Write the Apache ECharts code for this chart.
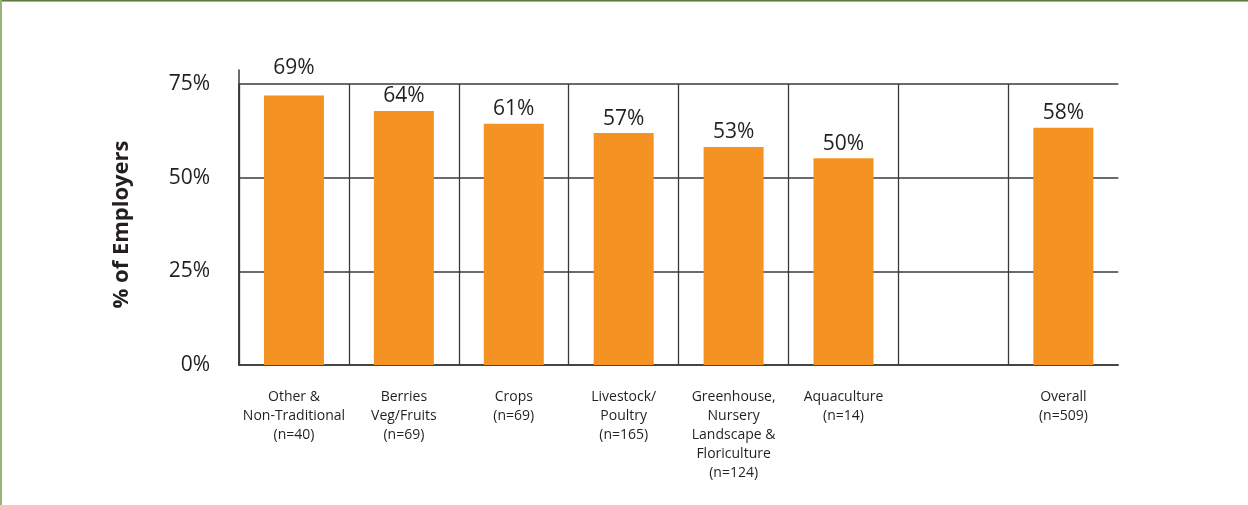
<!DOCTYPE html>
<html>
<head>
<meta charset="utf-8">
<script src="https://cdn.jsdelivr.net/npm/echarts@6/dist/echarts.min.js"></script>
<style>
  html, body { margin: 0; padding: 0; background: #ffffff; }
  #wrap { position: relative; width: 1248px; height: 505px; overflow: hidden; }
  #chart { position: absolute; left: 0; top: 0; width: 1248px; height: 505px; }
  #bTop { position: absolute; left: 0; top: 0; width: 1248px; height: 1px; background: #5e7a3c; border-bottom: 1px solid #9fba82; }
  #bLeft { position: absolute; left: 0; top: 0; width: 2px; height: 505px; background: #98b47a; }
</style>
</head>
<body>
<div id="wrap">
  <div id="chart"></div>
  <div id="bTop"></div>
  <div id="bLeft"></div>
</div>
<script>
// ---- data ----
const categories = [
  'Other &\nNon-Traditional\n(n=40)',
  'Berries\nVeg/Fruits\n(n=69)',
  'Crops\n(n=69)',
  'Livestock/\nPoultry\n(n=165)',
  'Greenhouse,\nNursery\nLandscape &\nFloriculture\n(n=124)',
  'Aquaculture\n(n=14)',
  '',
  'Overall\n(n=509)'
];
// bar heights as drawn in the picture (in % on the axis)
const barHeights = [71.9, 67.8, 64.4, 61.9, 58.2, 55.2, null, 63.3];
// printed value labels
const printedPct = [69, 64, 61, 57, 53, 50, null, 58];
const yTickValues = [0, 25, 50, 75];
const yAxisTitle = '% of Employers';

// ---- chart ----
const TEXT = '#231f20';
const LINE = '#3a3a3a';
const FONT = '"Open Sans", "Noto Sans", sans-serif';
const chart = echarts.init(document.getElementById('chart'), null, { renderer: 'canvas' });

const seriesData = barHeights.map((v, i) => {
  if (v === null) return { value: null };
  const item = { value: v };
  if (i === 0) item.label = { distance: 17 };
  return item;
});

chart.setOption({
  animation: false,
  backgroundColor: '#ffffff',
  textStyle: { fontFamily: FONT },
  grid: [
    { left: 239, right: 129.7, top: 84, bottom: 140, containLabel: false },
    { left: 239, right: 129.7, top: 70, bottom: 140, containLabel: false }
  ],
  xAxis: [
    {
      type: 'category',
      gridIndex: 0,
      data: categories,
      boundaryGap: true,
      axisLine: { show: true, lineStyle: { color: LINE, width: 1.5 } },
      axisTick: { show: false },
      splitLine: { show: true, showMaxLine: false, lineStyle: { color: LINE, width: 1.3 } },
      axisLabel: {
        interval: 0,
        margin: 23,
        color: TEXT,
        fontFamily: FONT,
        fontSize: 14,
        lineHeight: 19,
        align: 'center'
      }
    },
    {
      type: 'category',
      gridIndex: 1,
      data: categories,
      show: false
    }
  ],
  yAxis: [
    {
      type: 'value',
      gridIndex: 0,
      min: yTickValues[0],
      max: yTickValues[yTickValues.length - 1],
      interval: 25,
      axisLine: { show: true, lineStyle: { color: LINE, width: 1.5 } },
      axisTick: { show: false },
      splitLine: { show: true, lineStyle: { color: LINE, width: 1.5 } },
      axisLabel: {
        color: TEXT,
        fontFamily: FONT,
        fontSize: 21,
        margin: 29,
        formatter: (v) => v + '%'
      },
      name: yAxisTitle,
      nameLocation: 'middle',
      nameGap: 106,
      nameRotate: 90,
      nameTextStyle: { color: TEXT, fontFamily: FONT, fontSize: 22, fontWeight: 'bold' }
    },
    {
      type: 'value',
      gridIndex: 1,
      min: 0,
      max: 78.7,
      axisLine: { show: true, lineStyle: { color: LINE, width: 1.5 } },
      axisTick: { show: false },
      axisLabel: { show: false },
      splitLine: { show: false }
    }
  ],
  series: [
    {
      type: 'bar',
      xAxisIndex: 0,
      yAxisIndex: 0,
      data: seriesData,
      barWidth: 60,
      itemStyle: { color: '#f49223' },
      label: {
        show: true,
        position: 'top',
        distance: 4,
        color: TEXT,
        fontFamily: FONT,
        fontSize: 21,
        formatter: (p) => printedPct[p.dataIndex] === null ? '' : printedPct[p.dataIndex] + '%'
      }
    }
  ]
});
</script>
</body>
</html>
